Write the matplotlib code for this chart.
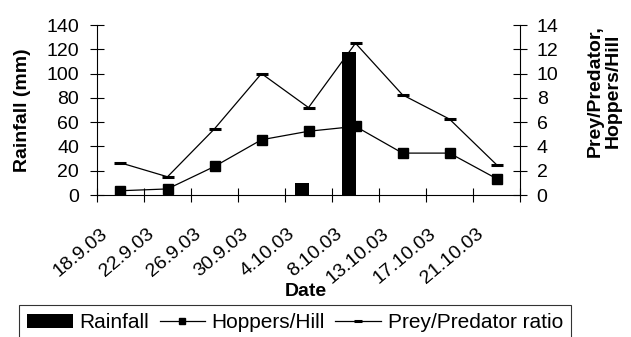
import matplotlib
matplotlib.use('Agg')
import matplotlib.pyplot as plt
import matplotlib.transforms as mtransforms
import numpy as np

plt.rcParams['font.family'] = ['Liberation Sans', 'DejaVu Sans']

dates = ['18.9.03', '22.9.03', '26.9.03', '30.9.03', '4.10.03',
         '8.10.03', '13.10.03', '17.10.03', '21.10.03']
rainfall = [0, 0, 0, 0, 10, 118, 0, 0, 0]
hoppers_per_hill = [0.35, 0.5, 2.35, 4.55, 5.25, 5.65, 3.45, 3.45, 1.35]
prey_predator = [2.65, 1.5, 5.45, 10.0, 7.2, 12.5, 8.25, 6.25, 2.5]

fs = 14
fig = plt.figure(figsize=(6.31, 3.37), dpi=100)
ax = fig.add_axes([97 / 631, 1 - 195 / 337, 423 / 631, 170 / 337])
ax2 = ax.twinx()

x = np.arange(len(dates))
bars = ax.bar(x, rainfall, width=-0.28, align='edge', color='black',
              label='Rainfall', zorder=2)
l1, = ax2.plot(x, hoppers_per_hill, color='black', lw=0.9, marker='s',
               markersize=6.5, label='Hoppers/Hill')
l2, = ax2.plot(x, prey_predator, color='black', lw=0.9, marker='_',
               markersize=8, markeredgewidth=2.2, label='Prey/Predator ratio')

ax.set_xlim(-0.5, len(dates) - 0.5)
ax.set_ylim(0, 140)
ax2.set_ylim(0, 14)
ax.set_yticks(np.arange(0, 141, 20))
ax2.set_yticks(np.arange(0, 15, 2))

# boundary ticks (no labels) and centred labels
ax.set_xticks(np.arange(-0.5, len(dates), 1))
ax.set_xticklabels([])
ax.set_xticks(x, dates, minor=True, rotation=40, ha='right', va='top')
ax.tick_params(axis='x', which='major', direction='inout', length=10, width=0.8)
ax.tick_params(axis='x', which='minor', length=0, pad=21.5, labelsize=fs)
shift = mtransforms.ScaledTranslation(-0.10, 0, fig.dpi_scale_trans)
for lab in ax.get_xticklabels(minor=True):
    lab.set_transform(lab.get_transform() + shift)

ax.tick_params(axis='y', direction='inout', length=10, width=0.8, pad=8, labelsize=fs)
ax2.tick_params(axis='y', direction='inout', length=10, width=0.8, pad=7, labelsize=fs)

for s in ['top', 'right']:
    ax.spines[s].set_visible(False)
for s in ['top', 'left', 'bottom']:
    ax2.spines[s].set_visible(False)
ax.spines['left'].set_linewidth(0.8)
ax.spines['bottom'].set_linewidth(0.8)
ax2.spines['right'].set_linewidth(0.8)

fig.text(23 / 631, 1 - 110 / 337, 'Rainfall (mm)', rotation=90, fontsize=fs,
         fontweight='bold', ha='center', va='center')
fig.text(604 / 631, 1 - 91 / 337, 'Prey/Predator,\nHoppers/Hill', rotation=90,
         fontsize=fs, fontweight='bold', ha='center', va='center',
         multialignment='center', linespacing=1.1)
fig.text(306 / 631, 1 - 291 / 337, 'Date', fontsize=fs, fontweight='bold',
         ha='center', va='center')

leg = fig.legend([bars, l1, l2], ['Rainfall', 'Hoppers/Hill', 'Prey/Predator ratio'],
                 loc='upper left', bbox_to_anchor=(19 / 631, 1 - 305 / 337),
                 ncol=3, fontsize=15, frameon=True, fancybox=False,
                 edgecolor='black', handlelength=2.2, handletextpad=0.3,
                 columnspacing=0.5, borderpad=0.4, borderaxespad=0,
                 markerscale=0.7)
leg.get_frame().set_linewidth(0.8)

fig.savefig('out.png', dpi=100)
